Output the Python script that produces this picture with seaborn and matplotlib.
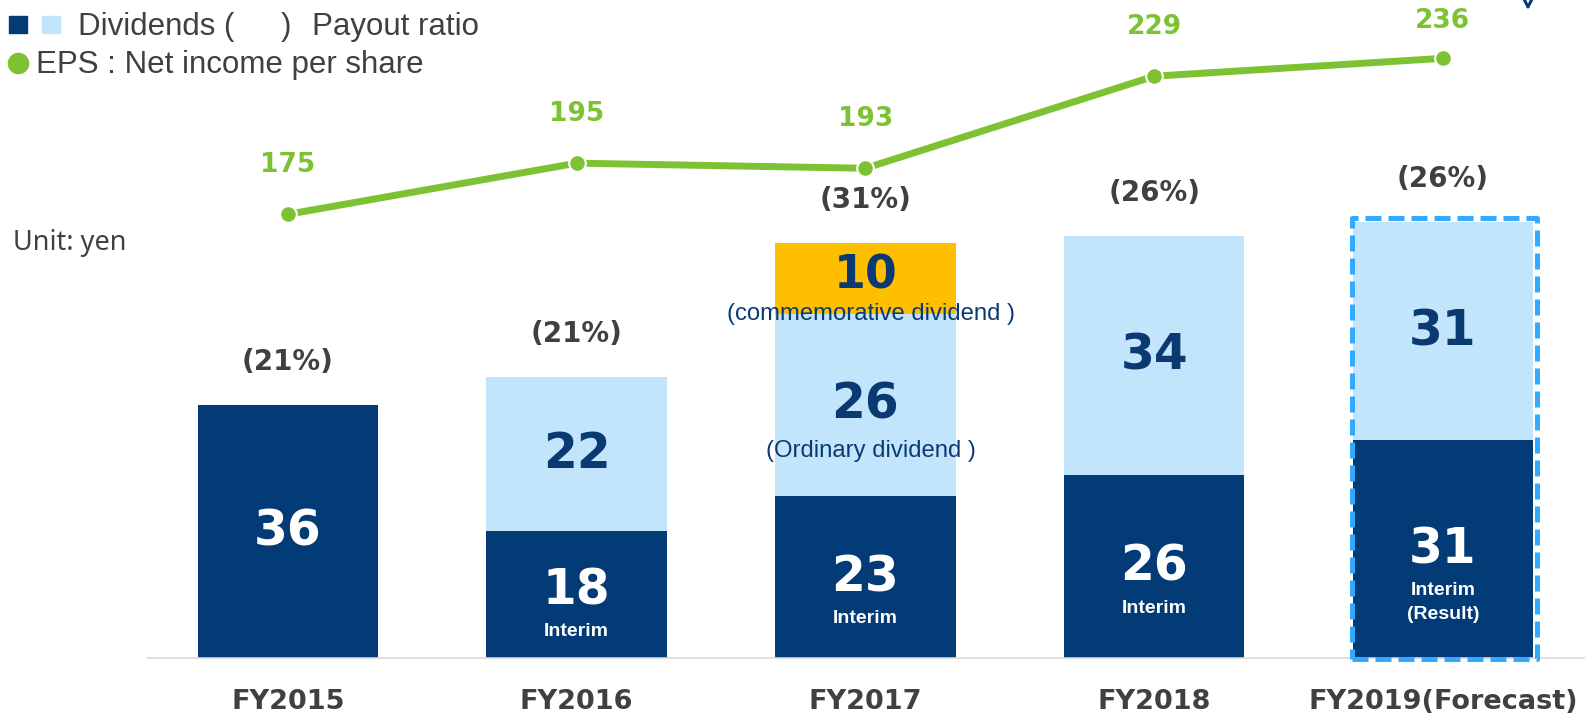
import numpy as np
import pandas as pd
import matplotlib
matplotlib.use("Agg")
import matplotlib.pyplot as plt
from matplotlib.patches import Rectangle
from matplotlib.lines import Line2D
import seaborn as sns

# ---------------- data ----------------
years = ["FY2015", "FY2016", "FY2017", "FY2018", "FY2019(Forecast)"]
interim_div = [36, 18, 23, 26, 31]          # dark segment (FY2015: full year)
yearend_div = [0, 22, 26, 34, 31]           # light segment
commemorative_div = [0, 0, 10, 0, 0]        # orange segment
payout_ratio = [21, 21, 31, 26, 26]
eps = [175, 195, 193, 229, 236]
interim_labels = ["", "Interim", "Interim", "Interim", "Interim\n(Result)"]
light_notes = ["", "", "(Ordinary dividend )", "", ""]
orange_notes = ["", "", "(commemorative dividend )", "", ""]

# ---------------- style ----------------
DARK = "#023b76"
LIGHT = "#c2e5fc"
ORANGE = "#fdbf00"
GREEN = "#7dc232"
GRAY = "#404040"
NAVY = "#0b3a73"
BOX = "#33aaff"

sns.set_style("white")
plt.rcParams["font.family"] = ["DejaVu Sans"]

W, H = 1585, 714
fig = plt.figure(figsize=(W / 100, H / 100), dpi=100)
base_px = 658
left_px = 147
ax = fig.add_axes([left_px / W, (H - base_px) / H, (W - left_px) / W, base_px / H])

df = pd.DataFrame({
    "year": years,
    "interim": interim_div,
    "yearend": yearend_div,
    "comm": commemorative_div,
})
df["light_top"] = df["interim"] + df["yearend"]
df["comm_top"] = df["light_top"] + df["comm"]

bw = 0.625
kw = dict(order=years, width=bw, saturation=1, linewidth=0, ax=ax)
sub = df[df["comm"] > 0]
sns.barplot(data=sub, x="year", y="comm_top", color=ORANGE, **kw)
sub = df[df["yearend"] > 0]
sns.barplot(data=sub, x="year", y="light_top", color=LIGHT, **kw)
sns.barplot(data=df, x="year", y="interim", color=DARK, **kw)

ax.set_xlim(-0.488, 4.492)
ax.set_ylim(0, base_px / 7.03)
ax.set_xlabel("")
ax.set_ylabel("")
ax.set_yticks([])
ax.tick_params(axis="x", length=0, pad=22)
ax.set_xticks(range(len(years)))
ax.set_xticklabels(years, fontsize=19.5, fontweight="bold", color=GRAY,
                   family="DejaVu Sans")
for s in ["left", "right", "top"]:
    ax.spines[s].set_visible(False)
ax.spines["bottom"].set_color("#d9d9d9")
ax.spines["bottom"].set_linewidth(1.2)

# ---------- EPS line on secondary axis ----------
ax2 = ax.twinx()
sns.lineplot(x=np.arange(len(years)), y=eps, ax=ax2, color=GREEN, linewidth=5,
             marker="o", markersize=12, markeredgecolor="white",
             markeredgewidth=1.5, markerfacecolor=GREEN)
ax2.set_ylim(1.5, 258.8)
ax2.set_yticks([])
ax2.set_ylabel("")
for s in ax2.spines.values():
    s.set_visible(False)
fig.canvas.draw()
for i, v in enumerate(eps):
    py = ax2.transData.transform((i, v))[1]
    ly = min(py + 49, H - 21)
    ax2.annotate(f"{v}", xy=(i, ly), xycoords=("data", "figure pixels"),
                 ha="center", va="center", fontsize=19, fontweight="bold",
                 color=GREEN)

# ---------- bar labels ----------
for i in range(len(years)):
    d = interim_div[i]
    y_e = yearend_div[i]
    c = commemorative_div[i]
    top = d + y_e + c
    ax.annotate(f"({payout_ratio[i]}%)", (i, top), xytext=(0, 31),
                textcoords="offset points", ha="center", va="center",
                fontsize=20, fontweight="bold", color=GRAY)
    short = d < 20 and interim_labels[i]
    ax.annotate(f"{d}", (i, d / 2), xytext=(0, 3 if short else 0),
                textcoords="offset points", ha="center", va="center",
                fontsize=35, fontweight="bold", color="white")
    if interim_labels[i]:
        ax.annotate(interim_labels[i], (i, d / 2),
                    xytext=(0, -20 if short else -24),
                    textcoords="offset points", ha="center", va="top",
                    fontsize=14, fontweight="bold", color="white",
                    family="Liberation Sans", linespacing=1.5)
    if y_e > 0:
        ax.annotate(f"{y_e}", (i, d + y_e / 2), ha="center", va="center",
                    fontsize=35, fontweight="bold", color=NAVY)
    if light_notes[i]:
        ax.annotate(light_notes[i], (i + 0.02, d + y_e / 2), xytext=(0, -33),
                    textcoords="offset points", ha="center", va="center",
                    fontsize=17.2, color=NAVY, family="Liberation Sans")
    if c > 0:
        ax.annotate(f"{c}", (i, d + y_e + c / 2), xytext=(0, 2),
                    textcoords="offset points", ha="center", va="center",
                    fontsize=33, fontweight="bold", color=NAVY)
    if orange_notes[i]:
        ax.annotate(orange_notes[i], (i + 0.02, d + y_e), ha="center",
                    va="center", fontsize=17.2, color=NAVY,
                    family="Liberation Sans")

# ---------- forecast dashed box ----------
fi = len(years) - 1
rect = Rectangle((fi - 0.315, -0.21), 0.64, 62.87, fill=False,
                 edgecolor=BOX, linewidth=3.6, linestyle=(0, (3.2, 1.4)),
                 clip_on=False, zorder=5, joinstyle="round")
ax.add_patch(rect)

# ---------- legend (drawn manually) ----------
def fx(px):
    return px / W

def fy(py):
    return 1 - py / H

fig.add_artist(Rectangle((fx(9), fy(33)), 18 / W, 17 / H, color=DARK,
                         transform=fig.transFigure))
fig.add_artist(Rectangle((fx(42), fy(33)), 18 / W, 17 / H, color=LIGHT,
                         transform=fig.transFigure))
LFS = 22.5
fig.text(fx(78), fy(35), "Dividends (", fontsize=LFS, color=GRAY,
         family="Liberation Sans", va="baseline", ha="left")
fig.text(fx(281), fy(35), ")", fontsize=LFS, color=GRAY,
         family="Liberation Sans", va="baseline", ha="left")
fig.text(fx(312), fy(35), "Payout ratio", fontsize=LFS, color=GRAY,
         family="Liberation Sans", va="baseline", ha="left")
fig.add_artist(Line2D([fx(18)], [fy(63)], marker="o", markersize=14.5,
                      color=GREEN, linestyle="none",
                      transform=fig.transFigure))
fig.text(fx(36), fy(73), "EPS : Net income per share", fontsize=LFS,
         color=GRAY, family="Liberation Sans", va="baseline", ha="left")

fig.text(fx(13), fy(243), "Unit: yen", fontsize=19.5, color=GRAY,
         family="Noto Sans", va="center", ha="left")

# small cut-off chevron mark at top right
fig.add_artist(Line2D([fx(1524), fx(1528), fx(1532)], [fy(-1), fy(7), fy(-1)],
                      color=DARK, linewidth=2.2, transform=fig.transFigure))

fig.savefig("out.png", dpi=100)
